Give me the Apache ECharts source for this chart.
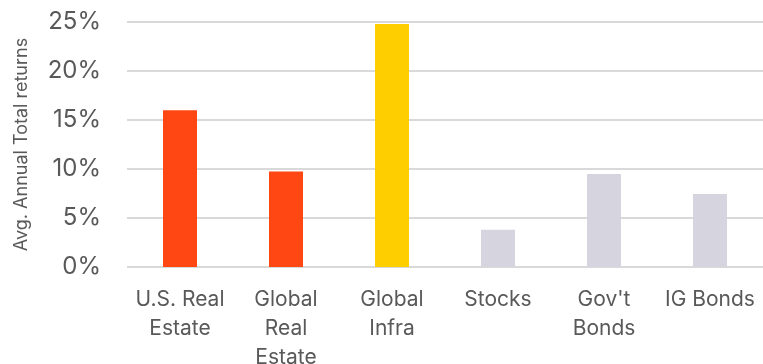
<!DOCTYPE html>
<html>
<head>
<meta charset="utf-8">
<script src="https://cdn.jsdelivr.net/npm/echarts@6/dist/echarts.min.js"></script>
<style>
  html, body { margin: 0; padding: 0; background: #fff; }
  #chart { width: 763px; height: 364px; }
</style>
</head>
<body>
<div id="chart"></div>
<script>
const categories = ['U.S. Real\nEstate', 'Global\nReal\nEstate', 'Global\nInfra', 'Stocks', "Gov't\nBonds", 'IG Bonds']
const returns = [16.0, 9.75, 24.8, 3.8, 9.5, 7.45]
const barColors = ['#FF4713', '#FF4713', '#FFCE00', '#D6D5DF', '#D6D5DF', '#D6D5DF']
const yTicks = [0, 5, 10, 15, 20, 25]

const textColor = '#595959'
const font = 'Inter, "DejaVu Sans", sans-serif'

const chart = echarts.init(document.getElementById('chart'))

chart.setOption({
    animation: false,
    grid: { left: 127, right: 0, top: 22, bottom: 97, outerBoundsMode: 'none', containLabel: false },
    xAxis: {
        type: 'category',
        data: categories,
        axisLine: { show: false },
        axisTick: { show: false },
        axisLabel: {
            color: textColor,
            fontFamily: font,
            fontSize: 21,
            lineHeight: 29,
            margin: 18,
            interval: 0
        }
    },
    yAxis: {
        type: 'value',
        min: yTicks[0],
        max: yTicks[yTicks.length - 1],
        interval: 5,
        name: 'Avg. Annual Total returns',
        nameLocation: 'middle',
        nameGap: 96,
        nameTextStyle: { color: textColor, fontFamily: font, fontSize: 18 },
        axisLabel: {
            color: textColor,
            fontFamily: font,
            fontSize: 24,
            margin: 26,
            formatter: (v) => v + '%'
        },
        splitLine: { lineStyle: { color: '#D9D9D9', width: 2 } }
    },
    series: [{
        type: 'bar',
        barWidth: 34,
        data: returns.map((v, i) => ({ value: v, itemStyle: { color: barColors[i] } }))
    }]
})
</script>
</body>
</html>
